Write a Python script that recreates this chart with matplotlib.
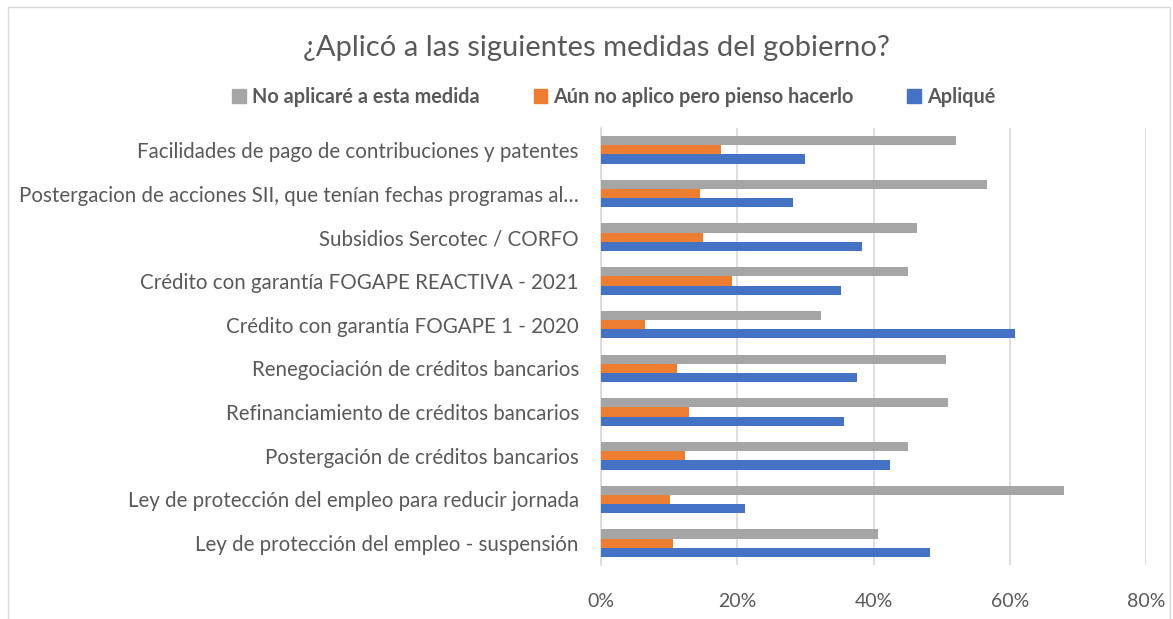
import matplotlib.pyplot as plt
import numpy as np
from matplotlib.patches import Rectangle, Patch

plt.rcParams['font.family'] = ['Lato', 'DejaVu Sans']

# datos (de arriba hacia abajo)
medidas = [
    "Facilidades de pago de contribuciones y patentes",
    "Postergacion de acciones SII, que tenían fechas programas al…",
    "Subsidios Sercotec / CORFO",
    "Crédito con garantía FOGAPE REACTIVA - 2021",
    "Crédito con garantía FOGAPE 1 - 2020",
    "Renegociación de créditos bancarios",
    "Refinanciamiento de créditos bancarios",
    "Postergación de créditos bancarios",
    "Ley de protección del empleo para reducir jornada",
    "Ley de protección del empleo - suspensión",
]
no_aplicare = [52.1, 56.7, 46.4, 45.0, 32.3, 50.7, 51.0, 45.0, 68.0, 40.7]
aun_no = [17.6, 14.5, 14.9, 19.2, 6.4, 11.2, 12.9, 12.3, 10.2, 10.5]
aplique = [30.0, 28.2, 38.3, 35.3, 60.7, 37.6, 35.6, 42.4, 21.2, 48.3]

series = ["No aplicaré a esta medida", "Aún no aplico pero pienso hacerlo", "Apliqué"]
colores = ["#A5A5A5", "#ED7D31", "#4472C4"]

fig = plt.figure(figsize=(11.73, 6.19), dpi=100)
ax = fig.add_axes([601 / 1173, 54 / 619, 545 / 1173, 437 / 619])

# borde del área del gráfico
fig.patches.append(Rectangle((8 / 1173, -2 / 619), 1162 / 1173, 614 / 619,
                             transform=fig.transFigure, fill=False,
                             edgecolor="#D9D9D9", linewidth=1))

y = np.arange(len(medidas))[::-1]
h = 0.21
for i, (vals, col) in enumerate(zip([no_aplicare, aun_no, aplique], colores)):
    ax.barh(y + h * (1 - i), vals, height=h, color=col, zorder=3)

ax.set_xlim(0, 80)
ax.set_ylim(-0.5, len(medidas) - 0.5)
ax.set_xticks(np.arange(0, 81, 20))
ax.set_xticklabels([f"{v}%" for v in range(0, 81, 20)])
ax.set_yticks(y)
ax.set_yticklabels(medidas)
ax.grid(axis="x", color="#D9D9D9", linewidth=1.2, zorder=0)
for s in ["top", "right", "bottom"]:
    ax.spines[s].set_visible(False)
ax.spines["left"].set_color("#D9D9D9")
ax.spines["left"].set_linewidth(1.2)
ax.tick_params(axis="both", length=0, colors="#595959")
ax.tick_params(axis="y", pad=16, labelsize=14.8)
ax.tick_params(axis="x", pad=20, labelsize=14)

fig.text(596 / 1173, 1 - 48 / 619, "¿Aplicó a las siguientes medidas del gobierno?",
         ha="center", va="center", fontsize=21, color="#595959")

handles = [Patch(color=c, label=s) for s, c in zip(series, colores)]
leg = fig.legend(handles=handles, loc="center", bbox_to_anchor=(614 / 1173, 1 - 97 / 619),
                 ncol=3, frameon=False, handlelength=0.7, handleheight=0.7,
                 handletextpad=0.3, columnspacing=2.7,
                 prop={"size": 14.3, "weight": "bold"})
for t in leg.get_texts():
    t.set_color("#595959")

fig.savefig("out.png", dpi=100)
